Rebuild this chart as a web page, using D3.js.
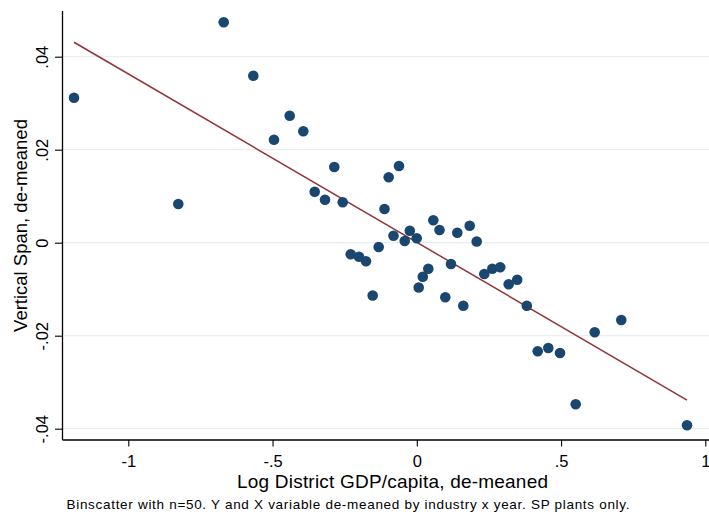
<!DOCTYPE html>
<html>
<head>
<meta charset="utf-8">
<script src="https://cdn.jsdelivr.net/npm/d3@7"></script>
<style>
  html, body { margin: 0; padding: 0; background: #fff; }
  svg { display: block; }
  text { font-family: "Liberation Sans", Arial, Helvetica, sans-serif; fill: #000; }
</style>
</head>
<body>
<svg id="chart" width="709" height="512"></svg>
<script>
// Binned means: log district GDP per capita (x) vs vertical span (y), both de-meaned
const binX = [
  -1.1882, -0.8267, -0.6693, -0.5667, -0.4950, -0.4406, -0.3934, -0.3539, -0.3182, -0.2860,
  -0.2568, -0.2291, -0.2003, -0.1761, -0.1529, -0.1321, -0.1120, -0.0974, -0.0808, -0.0617,
  -0.0419, -0.0243, -0.0003, 0.0066, 0.0208, 0.0399, 0.0572, 0.0787, 0.0988, 0.1185,
  0.1404, 0.1612, 0.1834, 0.2076, 0.2340, 0.2617, 0.2891, 0.3185, 0.3480, 0.3813,
  0.4191, 0.4558, 0.4964, 0.5508, 0.6166, 0.7088, 0.9366
];
const binY = [
  0.03118, 0.00832, 0.04740, 0.03591, 0.02215, 0.02731, 0.02396, 0.01097, 0.00925, 0.01628,
  0.00869, -0.00249, -0.00301, -0.00400, -0.01135, -0.00092, 0.00725, 0.01406, 0.00151, 0.01649,
  0.00037, 0.00258, 0.00097, -0.00963, -0.00731, -0.00559, 0.00482, 0.00273, -0.01174, -0.00458,
  0.00215, -0.01357, 0.00366, 0.00026, -0.00673, -0.00559, -0.00529, -0.00892, -0.00796, -0.01357,
  -0.02335, -0.02265, -0.02372, -0.03475, -0.01927, -0.01662, -0.03927
];

// Linear fit drawn across the range of the bins
const fitIntercept = 0.00008;
const fitSlope = -0.03621;

const xTicks = [-1, -0.5, 0, 0.5, 1];
const xTickLabels = ["-1", "-.5", "0", ".5", "1"];
const yTicks = [0.04, 0.02, 0, -0.02, -0.04];
const yTickLabels = [".04", ".02", "0", "-.02", "-.04"];

const xTitle = "Log District GDP/capita, de-meaned";
const yTitle = "Vertical Span, de-meaned";
const note = "Binscatter with n=50. Y and X variable de-meaned by industry x year. SP plants only.";

const svg = d3.select("#chart");
const plot = { left: 62.5, right: 709, top: 11, bottom: 440 };

const x = d3.scaleLinear().domain([-1, 1]).range([128.3, 705.3]);
const y = d3.scaleLinear().domain([-0.04, 0.04]).range([428.7, 56.7]);

// horizontal grid
svg.append("g")
  .selectAll("line")
  .data(yTicks)
  .join("line")
  .attr("x1", plot.left)
  .attr("x2", plot.right)
  .attr("y1", d => y(d))
  .attr("y2", d => y(d))
  .attr("stroke", "#e7eff1")
  .attr("stroke-width", 1.2);

// fitted line
const xMin = d3.min(binX), xMax = d3.max(binX);
svg.append("line")
  .attr("x1", x(xMin))
  .attr("y1", y(fitIntercept + fitSlope * xMin))
  .attr("x2", x(xMax))
  .attr("y2", y(fitIntercept + fitSlope * xMax))
  .attr("stroke", "#90353b")
  .attr("stroke-width", 1.5);

// bin markers
svg.append("g")
  .selectAll("circle")
  .data(d3.zip(binX, binY))
  .join("circle")
  .attr("cx", d => x(d[0]))
  .attr("cy", d => y(d[1]))
  .attr("r", 5.3)
  .attr("fill", "#1a476f");

// x axis
const xAxis = d3.axisBottom(x)
  .tickValues(xTicks)
  .tickFormat((d, i) => xTickLabels[i])
  .tickSize(6.5)
  .tickPadding(8);
const gx = svg.append("g").attr("transform", `translate(0,${plot.bottom})`).call(xAxis);
gx.select(".domain").remove();
gx.append("line")
  .attr("x1", plot.left).attr("x2", plot.right + 5)
  .attr("y1", 0).attr("y2", 0)
  .attr("stroke", "#000").attr("stroke-width", 1.3);
gx.selectAll(".tick line").attr("stroke", "#000").attr("stroke-width", 1.1);
gx.selectAll(".tick text")
  .attr("font-family", "Liberation Sans, Arial, sans-serif")
  .attr("font-size", 16.5)
  .attr("fill", "#000")
  .attr("dy", null)
  .attr("y", 26.7);

// y axis
const yAxis = d3.axisLeft(y)
  .tickValues(yTicks)
  .tickFormat((d, i) => yTickLabels[i])
  .tickSize(7.5);
const gy = svg.append("g").attr("transform", `translate(${plot.left},0)`).call(yAxis);
gy.select(".domain").remove();
gy.append("line")
  .attr("x1", 0).attr("x2", 0)
  .attr("y1", plot.top).attr("y2", plot.bottom)
  .attr("stroke", "#000").attr("stroke-width", 1.3);
gy.selectAll(".tick line").attr("stroke", "#000").attr("stroke-width", 1.1);
gy.selectAll(".tick text")
  .attr("font-family", "Liberation Sans, Arial, sans-serif")
  .attr("font-size", 16.5)
  .attr("fill", "#000")
  .attr("x", null)
  .attr("dy", null)
  .attr("text-anchor", "middle")
  .attr("transform", "translate(-14.5,0) rotate(-90)");

// titles
svg.append("text")
  .attr("x", 392.5)
  .attr("y", 488.3)
  .attr("text-anchor", "middle")
  .attr("font-size", 19)
  .attr("textLength", 311)
  .attr("lengthAdjust", "spacing")
  .text(xTitle);

svg.append("text")
  .attr("transform", "translate(27,225.5) rotate(-90)")
  .attr("text-anchor", "middle")
  .attr("font-size", 18.5)
  .text(yTitle);

svg.append("text")
  .attr("x", 66.5)
  .attr("y", 509)
  .attr("font-size", 13.5)
  .attr("textLength", 563)
  .attr("lengthAdjust", "spacing")
  .text(note);
</script>
</body>
</html>
